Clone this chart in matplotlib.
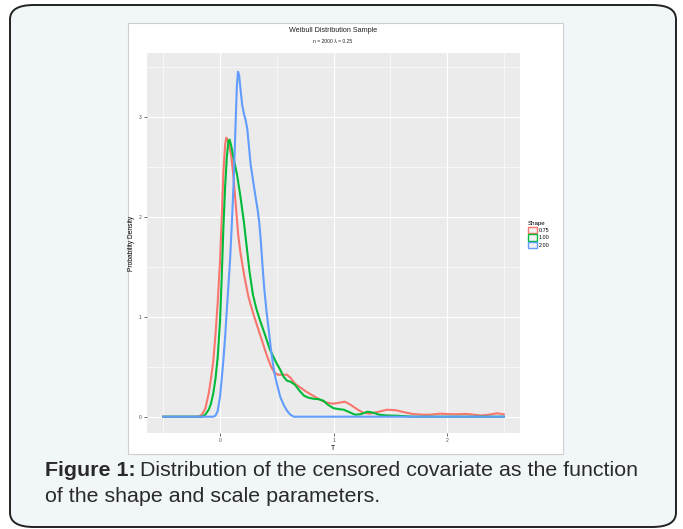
import matplotlib.pyplot as plt
from matplotlib.patches import FancyBboxPatch, Rectangle, Patch

plt.rcParams['font.family'] = ['Liberation Sans', 'DejaVu Sans']

# density curves (T, density)
t_075 = [-0.5, -0.2, -0.18, -0.16, -0.13, -0.1, -0.08, -0.06, -0.04, -0.02, 0.0,
         0.015, 0.03, 0.045, 0.055, 0.065, 0.08, 0.1, 0.12, 0.14, 0.16, 0.18,
         0.2, 0.22, 0.25, 0.29, 0.33, 0.37, 0.41, 0.45, 0.48, 0.51, 0.55, 0.59,
         0.62, 0.66, 0.71, 0.76, 0.82, 0.88, 0.94, 1.0, 1.05, 1.1, 1.15, 1.2,
         1.26, 1.32, 1.4, 1.47, 1.55, 1.62, 1.7, 1.78, 1.85, 1.94, 2.05, 2.17,
         2.24, 2.3, 2.37, 2.44, 2.5]
d_075 = [0.0, 0.0, 0.005, 0.02, 0.08, 0.23, 0.38, 0.55, 0.82, 1.15, 1.55,
         2.0, 2.45, 2.72, 2.79, 2.77, 2.72, 2.6, 2.38, 2.1, 1.82, 1.64,
         1.5, 1.37, 1.2, 1.04, 0.9, 0.76, 0.62, 0.5, 0.44, 0.42, 0.42, 0.42,
         0.39, 0.33, 0.29, 0.25, 0.21, 0.17, 0.14, 0.13, 0.14, 0.15, 0.12, 0.08,
         0.04, 0.03, 0.05, 0.07, 0.065, 0.045, 0.027, 0.02, 0.02, 0.03, 0.024, 0.027,
         0.02, 0.012, 0.02, 0.034, 0.024]

t_100 = [-0.5, -0.16, -0.13, -0.1, -0.08, -0.06, -0.04, -0.02, 0.0, 0.015, 0.03,
         0.045, 0.06, 0.075, 0.085, 0.1, 0.12, 0.15, 0.18, 0.21, 0.235, 0.26,
         0.29, 0.32, 0.35, 0.39, 0.44, 0.47, 0.5, 0.53, 0.56, 0.59, 0.62, 0.66,
         0.7, 0.74, 0.78, 0.82, 0.87, 0.91, 0.95, 1.0, 1.05, 1.09, 1.14, 1.19,
         1.24, 1.3, 1.35, 1.4, 1.48, 1.56, 1.7, 2.5]
d_100 = [0.0, 0.0, 0.02, 0.07, 0.13, 0.23, 0.38, 0.6, 0.95, 1.4, 1.9,
         2.3, 2.6, 2.76, 2.77, 2.7, 2.58, 2.42, 2.2, 1.95, 1.7, 1.45,
         1.22, 1.08, 0.97, 0.84, 0.67, 0.6, 0.53, 0.47, 0.4, 0.36, 0.35, 0.32,
         0.26, 0.21, 0.19, 0.18, 0.175, 0.16, 0.12, 0.085, 0.075, 0.07, 0.045, 0.02,
         0.025, 0.05, 0.04, 0.02, 0.012, 0.01, 0.0, 0.0]

t_200 = [-0.5, -0.06, -0.04, -0.02, 0.0, 0.015, 0.03, 0.045, 0.06, 0.075, 0.09,
         0.105, 0.12, 0.135, 0.148, 0.158, 0.168, 0.18, 0.195, 0.21, 0.225, 0.24,
         0.255, 0.27, 0.29, 0.31, 0.33, 0.345, 0.36, 0.375, 0.39, 0.41, 0.43,
         0.45, 0.47, 0.49, 0.51, 0.53, 0.56, 0.59, 0.62, 0.65, 2.5]
d_200 = [0.0, 0.0, 0.01, 0.06, 0.2, 0.38, 0.57, 0.8, 1.07, 1.33, 1.6,
         1.95, 2.35, 2.85, 3.3, 3.45, 3.42, 3.28, 3.12, 3.03, 2.97, 2.88,
         2.7, 2.52, 2.37, 2.22, 2.08, 1.95, 1.75, 1.5, 1.28, 1.05, 0.86,
         0.66, 0.5, 0.38, 0.29, 0.2, 0.12, 0.06, 0.02, 0.0, 0.0]

shapes = ['0.75', '1.00', '2.00']
colors = ['#F8766D', '#00BA38', '#619CFF']
series = [(t_075, d_075), (t_100, d_100), (t_200, d_200)]

W, H = 683, 529
fig = plt.figure(figsize=(W / 100, H / 100), dpi=100)
fig.patch.set_facecolor('white')


def fx(px):
    return px / W


def fy(py):
    return 1 - py / H


# outer rounded frame
fig.patches.append(FancyBboxPatch((fx(10), fy(527)), fx(666), 522 / H,
                                  boxstyle='round,pad=0,rounding_size=0.035',
                                  transform=fig.transFigure, facecolor='#f1f6f9',
                                  edgecolor='#222222', linewidth=1.4,
                                  mutation_aspect=H / W, zorder=-3))
# white chart card
fig.patches.append(Rectangle((fx(127.5), fy(454)), fx(563 - 127.5), (454 - 22.5) / H,
                             transform=fig.transFigure, facecolor='white',
                             edgecolor='#cfcfcf', linewidth=0.8, zorder=-2))

ax = fig.add_axes([fx(146.7), fy(433), fx(520 - 146.7), (433 - 53.3) / H])
ax.set_facecolor('#ebebeb')
for s in ax.spines.values():
    s.set_visible(False)

ax.set_xlim(-0.646, 2.643)
ax.set_ylim(-0.163, 3.634)
ax.set_xticks([0, 1, 2])
ax.set_yticks([0, 1, 2, 3])
ax.set_xticks([-0.5, 0.5, 1.5, 2.5], minor=True)
ax.set_yticks([0.5, 1.5, 2.5, 3.5], minor=True)
ax.grid(True, which='major', color='white', linewidth=0.8)
ax.grid(True, which='minor', color='white', linewidth=0.4)
ax.set_axisbelow(True)
ax.tick_params(which='major', length=2, width=0.5, color='#333333',
               labelsize=3.6, labelcolor='#4d4d4d', pad=1.5)
ax.tick_params(which='minor', length=0)

for (t, d), c in zip(series, colors):
    ax.plot(t, d, color=c, linewidth=1.5, solid_joinstyle='round')

ax.set_xlabel('T', fontsize=4.8, labelpad=1.5)
ax.set_ylabel('Probability Density', fontsize=4.8, labelpad=3)

fig.text(fx(333), fy(30), 'Weibull Distribution Sample', ha='center', va='center',
         fontsize=5.2, color='#222222')
fig.text(fx(333), fy(41.5), 'n = 2000 \u03bb = 0.25', ha='center', va='center',
         fontsize=3.6, color='#222222')

handles = [Patch(facecolor='#f2f2f2', edgecolor=c, linewidth=1.0) for c in colors]
leg = ax.legend(handles, shapes, title='Shape', loc='upper left',
                bbox_to_anchor=(fx(528), fy(221)), bbox_transform=fig.transFigure,
                frameon=False, fontsize=3.9, title_fontsize=4.4,
                handlelength=1.6, handleheight=1.4, handletextpad=0.35,
                labelspacing=0.2, borderaxespad=0, borderpad=0)
leg._legend_box.align = 'left'

# caption
r = fig.canvas.get_renderer()
cap = fig.text(fx(45), fy(471), 'Figure 1:', fontsize=15.4, fontweight='bold',
               color='#2a2a2a', va='center')
bb = cap.get_window_extent(renderer=r)
fig.text(bb.x1 / W + fx(4), fy(471), 'Distribution of the censored covariate as the function',
         fontsize=15.4, color='#2a2a2a', va='center')
fig.text(fx(45), fy(497), 'of the shape and scale parameters.', fontsize=15.4,
         color='#2a2a2a', va='center')

fig.savefig('out.png', dpi=100)
